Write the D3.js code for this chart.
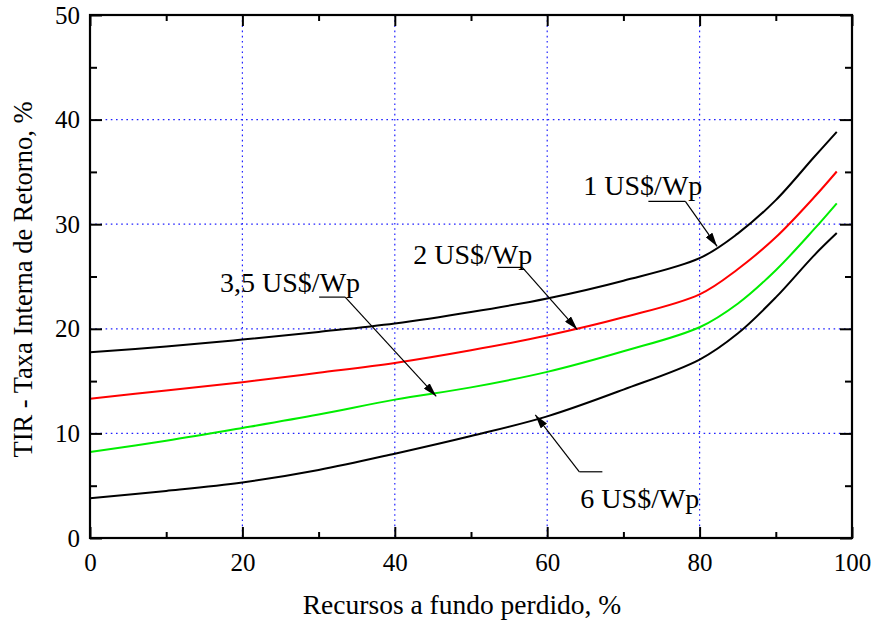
<!DOCTYPE html>
<html>
<head>
<meta charset="utf-8">
<script src="https://cdn.jsdelivr.net/npm/d3@7/dist/d3.min.js"></script>
<style>
  html, body { margin: 0; padding: 0; background: #fff; }
  svg { display: block; }
  text { font-family: "Liberation Serif", "Times New Roman", serif; fill: #000; }
</style>
</head>
<body>
<svg id="chart" width="872" height="624"></svg>
<script>
// ---- data ----
const xValues = [0, 10, 20, 30, 40, 50, 60, 70, 80, 85, 90, 95, 98];
const series1 = [17.76, 18.3, 18.97, 19.7, 20.5, 21.6, 22.9, 24.6, 26.75, 29.1, 32.3, 36.4, 38.83]; // 1 US$/Wp
const series2 = [13.32, 14.1, 14.89, 15.8, 16.74, 17.95, 19.36, 21.1, 23.3, 25.7, 28.75, 32.55, 35.04]; // 2 US$/Wp
const series35 = [8.22, 9.3, 10.52, 11.8, 13.23, 14.4, 15.88, 17.85, 20.15, 22.4, 25.6, 29.5, 32.0]; // 3,5 US$/Wp
const series6 = [3.81, 4.5, 5.31, 6.5, 8.06, 9.75, 11.63, 14.19, 17.06, 19.55, 23.0, 27.0, 29.15]; // 6 US$/Wp
const seriesNames = ["1 US$/Wp", "2 US$/Wp", "3,5 US$/Wp", "6 US$/Wp"];
const xMajorTicks = [0, 20, 40, 60, 80, 100];
const xMinorTicks = [10, 30, 50, 70, 90];
const yMajorTicks = [0, 10, 20, 30, 40, 50];
const yMinorTicks = [5, 15, 25, 35, 45];
const xGridTicks = [20, 40, 60, 80];
const yGridTicks = [10, 20, 30, 40];
const xTitle = "Recursos a fundo perdido, %";
const yTitle = "TIR - Taxa Interna de Retorno, %";
// callouts in data units: text start, leader underline (x0,x1,y), arrow tip
const labelX = [64.74, 42.42, 17.07, 64.35];
const labelY = [32.76, 26.16, 23.5, 2.88];
const leadX0 = [73.28, 53.45, 30.07, 64.22];
const leadX1 = [78.13, 56.73, 33.49, 67.24];
const leadY = [32.19, 25.87, 23.03, 6.33];
const leadFromLeft = [false, false, false, true];
const tipX = [82.3, 63.95, 45.44, 58.44];
const tipY = [27.88, 19.93, 13.54, 11.77];

// ---- layout ----
const margin = { left: 90, top: 15, right: 20, bottom: 86 };
const W = 872, H = 624;
const iw = W - margin.left - margin.right;
const ih = H - margin.top - margin.bottom;

const svg = d3.select("#chart");
const g = svg.append("g").attr("transform", `translate(${margin.left},${margin.top})`);

const x = d3.scaleLinear().domain([0, 100]).range([0, iw]);
const y = d3.scaleLinear().domain([0, 50]).range([ih, 0]);

// grid
g.append("g").selectAll("line").data(xGridTicks).join("line")
  .attr("x1", d => x(d)).attr("x2", d => x(d)).attr("y1", 0).attr("y2", ih)
  .attr("stroke", "#2020ff").attr("stroke-width", 1.2).attr("stroke-dasharray", "1.6,3.6");
g.append("g").selectAll("line").data(yGridTicks).join("line")
  .attr("y1", d => y(d)).attr("y2", d => y(d)).attr("x1", 0).attr("x2", iw)
  .attr("stroke", "#2020ff").attr("stroke-width", 1.2).attr("stroke-dasharray", "1.6,3.6");

// curves
const allSeries = [series1, series2, series35, series6];
const colors = ["#000000", "#ff0000", "#00ee00", "#000000"];
const line = d3.line().x(d => x(d[0])).y(d => y(d[1])).curve(d3.curveCatmullRom.alpha(0.5));
allSeries.forEach((s, i) => {
  g.append("path")
    .datum(xValues.map((v, j) => [v, s[j]]))
    .attr("fill", "none")
    .attr("stroke", colors[i])
    .attr("stroke-width", 2)
    .attr("d", line);
});

// frame
g.append("rect").attr("x", 0).attr("y", 0).attr("width", iw).attr("height", ih)
  .attr("fill", "none").attr("stroke", "#000").attr("stroke-width", 2.2);

// axes (ticks inward)
function styleAxis(sel, fs) {
  sel.select(".domain").remove();
  sel.selectAll(".tick line").attr("stroke", "#000").attr("stroke-width", 2);
  sel.selectAll(".tick text").style("font-size", fs + "px").attr("fill", "#000")
    .style("font-family", '"Liberation Serif", "Times New Roman", serif');
}
const xb = g.append("g").attr("transform", `translate(0,${ih})`)
  .call(d3.axisBottom(x).tickValues(xMajorTicks).tickSize(-11).tickPadding(15).tickFormat(d3.format("d")));
styleAxis(xb, 25);
const xbm = g.append("g").attr("transform", `translate(0,${ih})`)
  .call(d3.axisBottom(x).tickValues(xMinorTicks).tickSize(-6).tickFormat(""));
styleAxis(xbm, 25);
const xt = g.append("g").call(d3.axisTop(x).tickValues(xMajorTicks).tickSize(-11).tickFormat(""));
styleAxis(xt, 25);
const xtm = g.append("g").call(d3.axisTop(x).tickValues(xMinorTicks).tickSize(-6).tickFormat(""));
styleAxis(xtm, 25);

const yl = g.append("g")
  .call(d3.axisLeft(y).tickValues(yMajorTicks).tickSize(-12).tickPadding(10).tickFormat(d3.format("d")));
styleAxis(yl, 25);
const ylm = g.append("g").call(d3.axisLeft(y).tickValues(yMinorTicks).tickSize(-7).tickFormat(""));
styleAxis(ylm, 25);
const yr = g.append("g").attr("transform", `translate(${iw},0)`)
  .call(d3.axisRight(y).tickValues(yMajorTicks).tickSize(-12).tickFormat(""));
styleAxis(yr, 25);
const yrm = g.append("g").attr("transform", `translate(${iw},0)`)
  .call(d3.axisRight(y).tickValues(yMinorTicks).tickSize(-7).tickFormat(""));
styleAxis(yrm, 25);

// titles
svg.append("text").attr("x", margin.left + iw / 2 - 9).attr("y", 614)
  .attr("text-anchor", "middle").style("font-size", "27.5px").text(xTitle);
svg.append("text").attr("transform", `translate(32,${margin.top + ih / 2 + 3}) rotate(-90)`)
  .attr("text-anchor", "middle").style("font-size", "26.5px").text(yTitle);

// arrow marker
svg.append("defs").append("marker")
  .attr("id", "arrow").attr("markerUnits", "userSpaceOnUse")
  .attr("viewBox", "0 0 14 8").attr("markerWidth", 14).attr("markerHeight", 8)
  .attr("refX", 14).attr("refY", 4).attr("orient", "auto")
  .append("path").attr("d", "M0,0 L14,4 L0,8 Z").attr("fill", "#000");

// callouts
seriesNames.forEach((name, i) => {
  g.append("text").attr("x", x(labelX[i])).attr("y", y(labelY[i]))
    .style("font-size", "28px").text(name);
  g.append("line")
    .attr("x1", x(leadX0[i])).attr("x2", x(leadX1[i]))
    .attr("y1", y(leadY[i])).attr("y2", y(leadY[i]))
    .attr("stroke", "#000").attr("stroke-width", 1.2);
  const sx = leadFromLeft[i] ? leadX0[i] : leadX1[i];
  g.append("line")
    .attr("x1", x(sx)).attr("y1", y(leadY[i]))
    .attr("x2", x(tipX[i])).attr("y2", y(tipY[i]))
    .attr("stroke", "#000").attr("stroke-width", 1.2)
    .attr("marker-end", "url(#arrow)");
});
</script>
</body>
</html>
